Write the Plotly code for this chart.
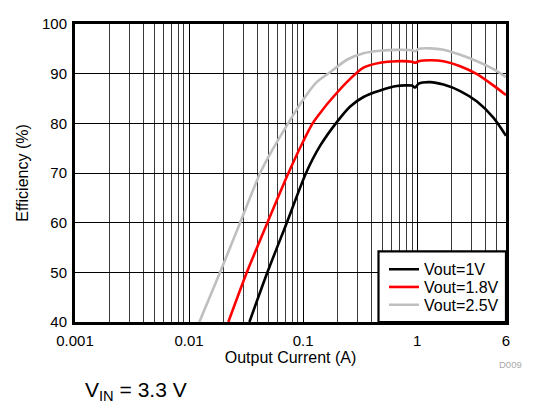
import plotly.graph_objects as go

# Data
current_1v = [0.0338, 0.0486, 0.0719, 0.106, 0.141, 0.198, 0.2585, 0.338, 0.473, 0.663, 0.900, 0.959, 1.03, 1.30, 1.70, 2.38, 3.34, 4.67, 6.0]
eff_1v = [40, 50, 60, 70, 75.5, 80.3, 83.4, 85.3, 86.6, 87.5, 87.6, 87.2, 88.0, 88.3, 87.8, 86.5, 84.4, 81.1, 77.5]

current_1v8 = [0.0221, 0.0321, 0.0486, 0.0743, 0.1007, 0.121, 0.150, 0.1726, 0.2415, 0.338, 0.473, 0.663, 0.900, 0.959, 1.03, 1.30, 1.70, 2.38, 3.34, 4.67, 6.0]
eff_1v8 = [40, 50, 60, 70, 76.5, 80, 82.9, 84.6, 88.3, 91.2, 92.2, 92.5, 92.4, 92.2, 92.5, 92.7, 92.5, 91.5, 89.9, 87.6, 85.7]

current_2v5 = [0.0123, 0.0187, 0.0280, 0.0420, 0.0506, 0.0738, 0.0975, 0.130, 0.1726, 0.2415, 0.338, 0.473, 0.663, 0.900, 0.959, 1.03, 1.30, 1.70, 2.38, 3.34, 4.67, 6.0]
eff_2v5 = [40, 50, 60, 70, 73.6, 80, 84.4, 88.2, 90.3, 92.8, 94.1, 94.6, 94.8, 94.7, 94.5, 95.0, 95.1, 94.8, 93.8, 92.5, 90.9, 89.3]

series_names = ["Vout=1V", "Vout=1.8V", "Vout=2.5V"]
series_colors = ["#000000", "#ff0000", "#bfbfbf"]

x_tickvals = [0.001, 0.01, 0.1, 1, 6]
x_ticktext = ["0.001", "0.01", "0.1", "1", "6"]
y_tickvals = [40, 50, 60, 70, 80, 90, 100]

FONT = "Liberation Sans, Arial, sans-serif"

# page has an 8px body margin: figure is shifted, so size/margins compensate
PL, PT = 75, 15          # plot-area left/top in page pixels
PW, PH = 431, 307        # plot-area size


def px(xp):
    return (xp - PL) / PW


def py(yp):
    return (PT + PH - yp) / PH


legend_ids = ["legend", "legend2", "legend3"]
legend_rows = [267.7, 286.0, 304.3]

fig = go.Figure()
for xs, ys, name, col, lg in zip([current_1v, current_1v8, current_2v5],
                                 [eff_1v, eff_1v8, eff_2v5],
                                 series_names, series_colors, legend_ids):
    fig.add_trace(go.Scatter(x=xs, y=ys, mode="lines", name=name, legend=lg,
                             line=dict(color=col, width=2.6, shape="spline", smoothing=0.7)))

legend_common = dict(bgcolor="rgba(0,0,0,0)", borderwidth=0, font=dict(size=16),
                     xanchor="left", yanchor="middle", itemwidth=30)

fig.update_layout(
    width=526, height=401,
    margin=dict(l=67, r=28, t=7, b=87),
    paper_bgcolor="white", plot_bgcolor="white",
    font=dict(family=FONT, size=15, color="black"),
    showlegend=True,
    legend=dict(x=px(384), y=py(legend_rows[0]), **legend_common),
    legend2=dict(x=px(384), y=py(legend_rows[1]), **legend_common),
    legend3=dict(x=px(384), y=py(legend_rows[2]), **legend_common),
    xaxis=dict(type="log", range=[-3, 0.77815], tickvals=x_tickvals, ticktext=x_ticktext,
               showgrid=True, gridcolor="black", gridwidth=1,
               minor=dict(showgrid=True, gridcolor="#3a3a3a", gridwidth=1, dtick="D1", ticks=""),
               showline=True, linecolor="black", linewidth=3, mirror=True,
               ticks="", zeroline=False, ticklabelstandoff=3,
               title=dict(text="Output Current (A)", font=dict(size=16), standoff=4),
               tickfont=dict(size=15)),
    yaxis=dict(range=[40, 100], tickvals=y_tickvals,
               showgrid=True, gridcolor="black", gridwidth=1,
               showline=True, linecolor="black", linewidth=3, mirror=True,
               ticks="", zeroline=False, ticklabelstandoff=2,
               title=dict(text="Efficiency (%)", font=dict(size=16), standoff=10),
               tickfont=dict(size=15)),
)

# legend frame
fig.add_shape(type="rect", xref="paper", yref="paper", layer="above",
              x0=px(378.5), x1=1.0, y0=0.0, y1=py(249.3),
              fillcolor="white", line=dict(color="black", width=2.2))

fig.add_annotation(text="V<sub>IN</sub> = 3.3 V", xref="paper", yref="paper",
                   x=px(136), y=py(393), xanchor="center", yanchor="middle",
                   showarrow=False, font=dict(size=21, family=FONT, color="black"))
fig.add_annotation(text="D009", xref="paper", yref="paper",
                   x=px(523.5), y=py(365.5), xanchor="right", yanchor="middle",
                   showarrow=False, font=dict(size=9.5, family=FONT, color="#a8a8a8"))

fig.write_html("out.html")
